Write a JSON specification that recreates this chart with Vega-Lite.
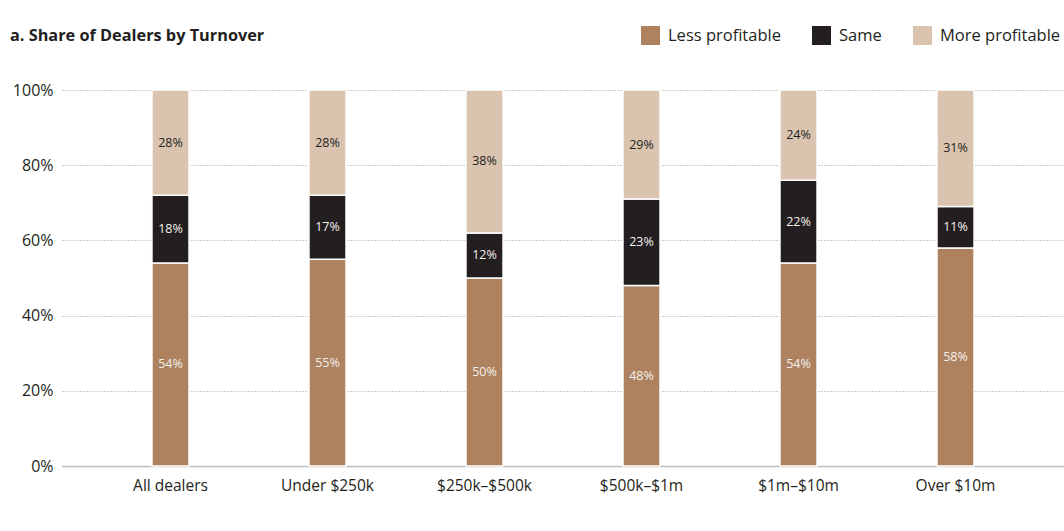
{
  "$schema": "https://vega.github.io/schema/vega-lite/v6.json",
  "width": 1002,
  "height": 376,
  "autosize": {"type": "none"},
  "padding": {"left": 62, "top": 90, "right": 0, "bottom": 65},
  "background": "white",
  "config": {
    "font": "Open Sans",
    "view": {"stroke": null},
    "axis": {"labelColor": "#231f20", "labelFont": "Open Sans"}
  },
  "title": {
    "text": "a. Share of Dealers by Turnover",
    "anchor": "start",
    "frame": "group",
    "dx": -52,
    "offset": -18,
    "fontSize": 16.3,
    "fontWeight": "bold",
    "color": "#231f20",
    "font": "Open Sans"
  },
  "data": {
    "values": [
      {"turnover": "All dealers", "group": "Less profitable", "value": 0.54, "order": 1},
      {"turnover": "All dealers", "group": "Same", "value": 0.18, "order": 2},
      {"turnover": "All dealers", "group": "More profitable", "value": 0.28, "order": 3},
      {"turnover": "Under $250k", "group": "Less profitable", "value": 0.55, "order": 1},
      {"turnover": "Under $250k", "group": "Same", "value": 0.17, "order": 2},
      {"turnover": "Under $250k", "group": "More profitable", "value": 0.28, "order": 3},
      {"turnover": "$250k–$500k", "group": "Less profitable", "value": 0.50, "order": 1},
      {"turnover": "$250k–$500k", "group": "Same", "value": 0.12, "order": 2},
      {"turnover": "$250k–$500k", "group": "More profitable", "value": 0.38, "order": 3},
      {"turnover": "$500k–$1m", "group": "Less profitable", "value": 0.48, "order": 1},
      {"turnover": "$500k–$1m", "group": "Same", "value": 0.23, "order": 2},
      {"turnover": "$500k–$1m", "group": "More profitable", "value": 0.29, "order": 3},
      {"turnover": "$1m–$10m", "group": "Less profitable", "value": 0.54, "order": 1},
      {"turnover": "$1m–$10m", "group": "Same", "value": 0.22, "order": 2},
      {"turnover": "$1m–$10m", "group": "More profitable", "value": 0.24, "order": 3},
      {"turnover": "Over $10m", "group": "Less profitable", "value": 0.58, "order": 1},
      {"turnover": "Over $10m", "group": "Same", "value": 0.11, "order": 2},
      {"turnover": "Over $10m", "group": "More profitable", "value": 0.31, "order": 3}
    ]
  },
  "encoding": {
    "x": {
      "field": "turnover",
      "type": "nominal",
      "sort": null,
      "scale": {"paddingInner": 0.764, "paddingOuter": 0.573},
      "axis": {
        "title": null,
        "labelAngle": 0,
        "labelFontSize": 15.5,
        "labelPadding": 12,
        "ticks": false,
        "domainColor": "#bdbdbd",
        "domainWidth": 1.5
      }
    },
    "y": {
      "field": "value",
      "type": "quantitative",
      "stack": "zero",
      "scale": {"domain": [0, 1]},
      "axis": {
        "title": null,
        "format": ".0%",
        "values": [0, 0.2, 0.4, 0.6, 0.8, 1],
        "labelFontSize": 16,
        "labelPadding": 9,
        "ticks": false,
        "domain": false,
        "gridColor": "#9a9a9a",
        "gridDash": [1, 2],
        "gridWidth": 1
      }
    },
    "order": {"field": "order", "type": "quantitative"}
  },
  "layer": [
    {
      "mark": {"type": "bar", "stroke": "white", "strokeWidth": 1.5},
      "encoding": {
        "color": {
          "field": "group",
          "type": "nominal",
          "sort": ["Less profitable", "Same", "More profitable"],
          "scale": {
            "domain": ["Less profitable", "Same", "More profitable"],
            "range": ["#ae825f", "#231f20", "#dac4b0"]
          },
          "legend": {
            "title": null,
            "orient": "none",
            "direction": "horizontal",
            "legendX": 579,
            "legendY": -64,
            "symbolType": "square",
            "symbolSize": 361,
            "symbolStrokeWidth": 0,
            "symbolOpacity": 1,
            "labelFontSize": 16.5,
            "labelColor": "#231f20",
            "labelOffset": 8,
            "columnPadding": 31,
            "labelFont": "Open Sans"
          }
        }
      }
    },
    {
      "mark": {"type": "text", "fontSize": 12.5, "baseline": "middle", "align": "center"},
      "encoding": {
        "y": {"field": "value", "type": "quantitative", "stack": "zero", "bandPosition": 0.5},
        "detail": {"field": "group"},
        "text": {"field": "value", "type": "quantitative", "format": ".0%"},
        "color": {
          "field": "group",
          "type": "nominal",
          "scale": {
            "domain": ["Less profitable", "Same", "More profitable"],
            "range": ["#f4f0ec", "#f4f0ec", "#231f20"]
          },
          "legend": null
        }
      }
    }
  ],
  "resolve": {"scale": {"color": "independent"}}
}
